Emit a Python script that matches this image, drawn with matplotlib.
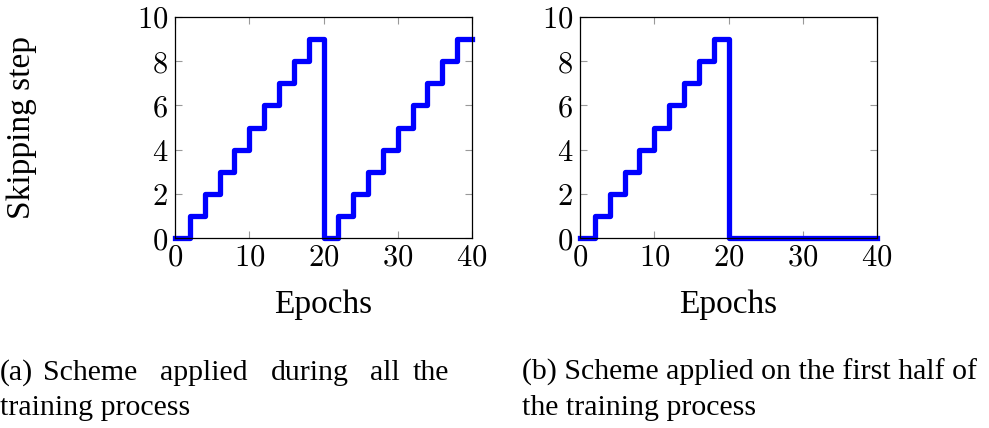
import matplotlib
matplotlib.use('Agg')
import matplotlib.pyplot as plt
import numpy as np

plt.rcParams['mathtext.fontset'] = 'cm'
plt.rcParams['font.family'] = ['Liberation Serif', 'DejaVu Serif']

# epochs where the skipping step changes, and the step held from each one
epoch_edges = [0, 2, 4, 6, 8, 10, 12, 14, 16, 18, 20, 22, 24, 26, 28, 30, 32, 34, 36, 38, 40]
skip_all = [0, 1, 2, 3, 4, 5, 6, 7, 8, 9, 0, 1, 2, 3, 4, 5, 6, 7, 8, 9, 9]
skip_half = [0, 1, 2, 3, 4, 5, 6, 7, 8, 9, 0, 0, 0, 0, 0, 0, 0, 0, 0, 0, 0]
x_ticks = [0, 10, 20, 30, 40]
y_ticks = [0, 2, 4, 6, 8, 10]

W, H = 989, 428
fig = plt.figure(figsize=(W / 100, H / 100), dpi=100)
ax1 = fig.add_axes([175 / W, 1 - 238 / H, 297 / W, 221 / H])
ax2 = fig.add_axes([580 / W, 1 - 238 / H, 297 / W, 221 / H])


def style(ax):
    ax.set_xlim(0, 40)
    ax.set_ylim(0, 10)
    ax.set_xticks(x_ticks)
    ax.set_yticks(y_ticks)
    ax.set_xticklabels(['$%d$' % v for v in x_ticks], fontsize=22)
    ax.set_yticklabels(['$%d$' % v for v in y_ticks], fontsize=22)
    ax.tick_params(direction='in', top=True, right=True, length=5,
                   width=0.8, color='#999999')
    ax.tick_params(axis='x', pad=4)
    ax.tick_params(axis='y', pad=5)
    for s in ax.spines.values():
        s.set_linewidth(0.9)
    ax.set_xlabel('Epochs', fontsize=24)
    ax.xaxis.set_label_coords(0.5, (238 - 289) / 221)


ax1.step(epoch_edges, skip_all, where='post', color='#0000ff', lw=3.8, clip_on=False)
ax2.step(epoch_edges, skip_half, where='post', color='#0000ff', lw=3.8, clip_on=False)
style(ax1)
style(ax2)
ax1.set_ylabel('Skipping step', fontsize=24)
ax1.yaxis.set_label_coords((37 - 175) / 297, 0.5)

cap = dict(fontsize=21.5, va='baseline')
# justified first line of caption (a)
words_a = ['(a)', 'Scheme', 'applied', 'during', 'all', 'the']
xs_a = [0, 90, 204, 310, 385, 449]
ha_a = ['left', 'center', 'center', 'center', 'center', 'right']
for w, xp, ha in zip(words_a, xs_a, ha_a):
    fig.text(xp / W, 1 - 380 / H, w, ha=ha, **cap)
fig.text(0, 1 - 415 / H, 'training process', ha='left', **cap)
fig.text(522 / W, 1 - 380 / H, '(b) Scheme applied on the first half of', ha='left', **cap)
fig.text(522 / W, 1 - 415 / H, 'the training process', ha='left', **cap)

fig.savefig('out.png', dpi=100)
